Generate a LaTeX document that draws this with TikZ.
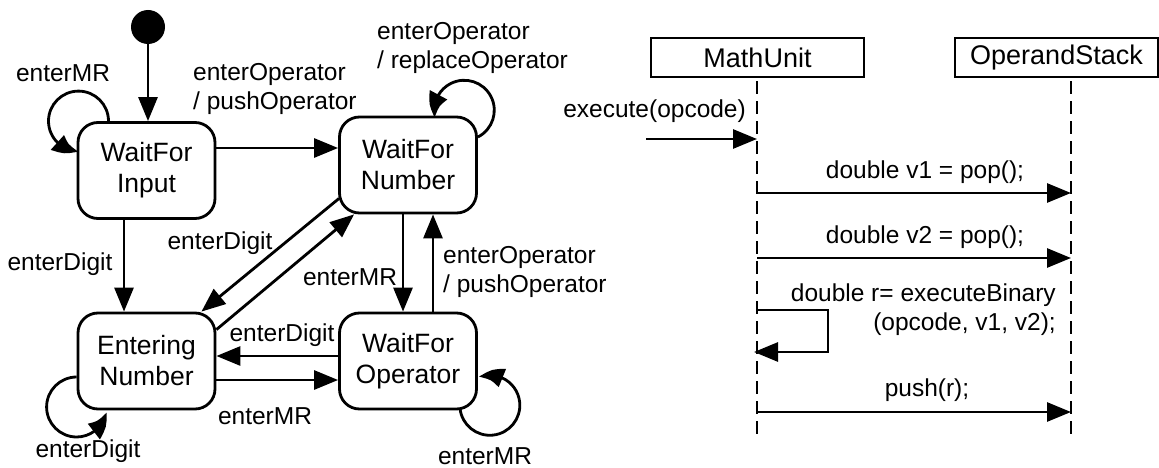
\documentclass[tikz,border=0pt]{standalone}
\usepackage{fontspec}
\setmainfont{Liberation Sans}
\usetikzlibrary{arrows.meta,calc,bending}
\tikzset{
  arr/.style={-{Triangle[length=24pt,width=19pt]}, line width=2.8pt},
  looparr/.style={-{Triangle[length=24pt,width=19pt,bend]}, line width=2.8pt},
  state/.style={draw, line width=2.8pt, rounded corners=20pt, minimum width=137pt, minimum height=96pt, inner sep=0pt, align=center, font=\fontsize{26.5}{31}\selectfont},
  lbl/.style={inner sep=0pt, font=\fontsize{24.5}{29}\selectfont},
  obj/.style={draw, line width=2.8pt, inner sep=0pt, minimum height=39pt, font=\fontsize{27}{31}\selectfont},
  lifeline/.style={line width=2.8pt, dash pattern=on 13pt off 7pt}
}
\begin{document}
\begin{tikzpicture}[x=1pt,y=-1pt]
\useasboundingbox (0,0) rectangle (1159,468);
% ---------- state machine ----------
\node[circle, fill=black, inner sep=0pt, minimum size=34pt] (init) at (148,27) {};
\node[state] (wi) at (146.5,170.5) {WaitFor\\Input};
\node[state] (wn) at (408,165) {WaitFor\\Number};
\node[state] (en) at (146.5,361) {Entering\\Number};
\node[state] (wo) at (408,361) {WaitFor\\Operator};

\draw[arr] (init) -- ($(wi.north)+(1.5,0)$);

% WaitForInput self loop
\draw[looparr] ($(wi.north)+(-38,0)$) arc[start angle=0, end angle=270, radius=30pt];
\node[lbl] (l1) at (63,73) {enterMR};

% WaitForInput -> WaitForNumber
\draw[arr] ($(wi.east)+(0,-22.5)$) -- ($(wn.west)+(0,-17)$);
\node[lbl, align=left, anchor=west] (l2) at (193,89) {enterOperator\\/ pushOperator};

% WaitForNumber self loop
\draw[looparr] ($(wn.east)+(0,-28)$) arc[start angle=-63, end angle=194, radius=30pt];
\node[lbl, align=left, anchor=west] (l3) at (377,48) {enterOperator\\/ replaceOperator};

% WaitForInput -> EnteringNumber
\draw[arr] ($(wi.south)+(-22.5,0)$) -- ($(en.north)+(-22.5,0)$);
\node[lbl] (l4) at (60,264) {enterDigit};

% WaitForNumber -> EnteringNumber
\draw[arr] ($(wn.south west)+(1,-16)$) -- ($(en.north east)+(-15,0)$);
\node[lbl] (l5) at (220,243) {enterDigit};

% EnteringNumber -> WaitForNumber
\draw[arr] ($(en.north east)+(0,18)$) -- ($(wn.south west)+(16,0)$);

% WaitForNumber -> WaitForOperator
\draw[arr] ($(wn.south)+(-5,0)$) -- ($(wo.north)+(-5,0)$);
\node[lbl] (l6) at (350,277) {enterMR};

% WaitForOperator -> WaitForNumber
\draw[arr] ($(wo.north)+(25,0)$) -- ($(wn.south)+(25,0)$);
\node[lbl, align=left, anchor=west] (l7) at (443,272) {enterOperator\\/ pushOperator};

% WaitForOperator -> EnteringNumber
\draw[arr] ($(wo.west)+(0,-5)$) -- ($(en.east)+(0,-5)$);
\node[lbl] (l8) at (282,335) {enterDigit};

% EnteringNumber -> WaitForOperator
\draw[arr] ($(en.east)+(0,19)$) -- ($(wo.west)+(0,19)$);
\node[lbl] (l9) at (265,416) {enterMR};

% EnteringNumber self loop
\draw[looparr] ($(en.west)+(0,16)$) arc[start angle=90, end angle=350, radius=30pt];
\node[lbl] (l10) at (88,451) {enterDigit};

% WaitForOperator self loop
\draw[looparr] ($(wo.south)+(52,-2)$) arc[start angle=186, end angle=471, radius=30pt];
\node[lbl] (l11) at (485,456) {enterMR};

% ---------- sequence diagram ----------
\node[obj, minimum width=213pt] (mu) at (757.5,57.5) {MathUnit};
\node[obj, minimum width=203pt] (os) at (1056.5,57.5) {OperandStack};
\coordinate (muL) at (757,437);
\coordinate (osL) at (1071,437);
\draw[lifeline] ($(mu.south)+(-0.5,3)$) -- (muL);
\draw[lifeline] ($(os.south)+(14.5,3)$) -- (osL);

\coordinate (exs) at (646,139);
\draw[arr] (exs) -- (exs -| muL);
\node[lbl, anchor=east] (m0) at (746,111) {execute(opcode)};

\coordinate (a1) at (757,193);
\draw[arr] (a1) -- (a1 -| osL);
\node[lbl] (m1) at (925,172) {double v1 = pop();};

\coordinate (a2) at (757,258);
\draw[arr] (a2) -- (a2 -| osL);
\node[lbl] (m2) at (925,237) {double v2 = pop();};

\coordinate (sc1) at (757,310);
\coordinate (sc2) at (754,352);
\draw[arr] (sc1) -- ++(71,0) |- (sc2);
\node[lbl, align=right, anchor=east] (m3) at (1056,310) {double r= executeBinary\\(opcode, v1, v2);};

\coordinate (a4) at (757,412);
\draw[arr] (a4) -- (a4 -| osL);
\node[lbl] (m4) at (927,390) {push(r);};
\end{tikzpicture}
\end{document}
